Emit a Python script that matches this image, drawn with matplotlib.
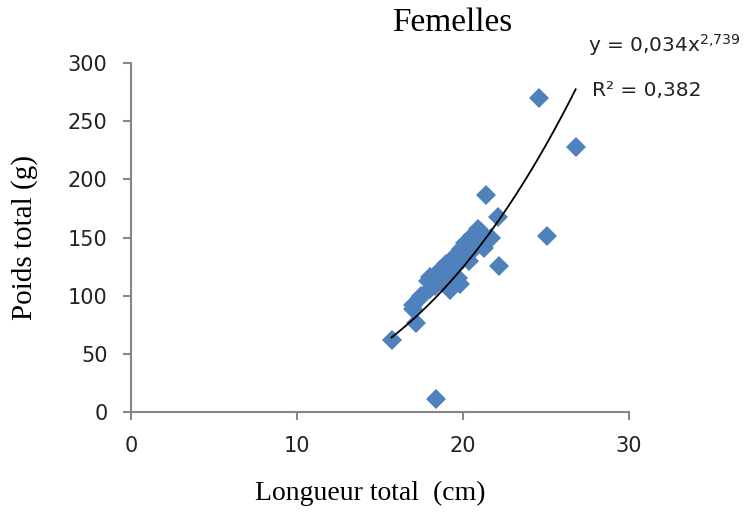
import numpy as np
import matplotlib.pyplot as plt

# Femelles : longueur totale (cm) et poids total (g)
longueur = [15.7, 17.0, 17.2, 17.0, 17.4, 17.5, 17.9, 18.0, 18.2, 18.4,
            18.6, 18.5, 18.8, 19.0, 19.1, 19.2, 19.4, 19.3, 19.6, 19.5,
            19.8, 19.9, 20.0, 20.2, 20.3, 20.5, 20.6, 20.8, 21.0, 21.1,
            20.4, 19.7, 21.3, 21.7, 21.4, 22.1, 22.2, 18.4, 24.6, 26.8,
            25.1, 18.3, 18.9, 19.5, 20.1, 20.7, 19.3, 18.0, 19.8, 20.9]
poids = [62, 89, 77, 92, 98, 100, 113, 116, 110, 118,
         122, 112, 120, 127, 112, 105, 108, 130, 128, 134,
         136, 140, 132, 143, 138, 148, 152, 146, 153, 155,
         130, 115, 141, 150, 187, 168, 126, 11, 270, 228,
         151, 108, 115, 125, 145, 140, 118, 106, 110, 157]

# ajustement puissance y = a * x^b
a, b = 0.034, 2.739
r2 = 0.382

fig = plt.figure(figsize=(7.53, 5.12), dpi=100)
ax = fig.add_axes([0.174, 0.195, 0.661, 0.682])

ax.plot(longueur, poids, 'D', color='#4F81BD', markersize=10.5,
        markeredgewidth=0, zorder=2)
xs = np.linspace(min(longueur), max(longueur), 200)
ax.plot(xs, a * xs ** b, color='black', linewidth=1.3, zorder=3)

ax.set_xlim(0, 30)
ax.set_ylim(0, 300)
ax.set_xticks([0, 10, 20, 30])
ax.set_yticks(range(0, 301, 50))

for side in ['top', 'right']:
    ax.spines[side].set_visible(False)
for side in ['left', 'bottom']:
    ax.spines[side].set_color('#868686')
    ax.spines[side].set_linewidth(1.5)
ax.tick_params(direction='out', length=6, width=1.5, color='#868686',
               labelsize=15, labelcolor='#222222', pad=11)

serif = 'Liberation Serif'
ax.set_xlabel('Longueur total  (cm)', fontfamily=serif, fontsize=20)
ax.set_ylabel('Poids total (g)', fontfamily=serif, fontsize=21)
ax.xaxis.set_label_coords(0.48, -0.232)
ax.yaxis.set_label_coords(-0.213, 0.5)
ax.xaxis.label.set_va('center')
ax.yaxis.label.set_va('center')
fig.text(0.60, 0.955, 'Femelles', fontfamily=serif, fontsize=24,
         ha='center', va='center')

fig.text(0.781, 0.912, 'y = 0,034x$^{2{,}739}$', fontsize=14.5,
         color='#222222', ha='left', va='center')
fig.text(0.786, 0.824, 'R² = 0,382', fontsize=14.5, color='#222222',
         ha='left', va='center')

fig.savefig('out.png', dpi=100)
